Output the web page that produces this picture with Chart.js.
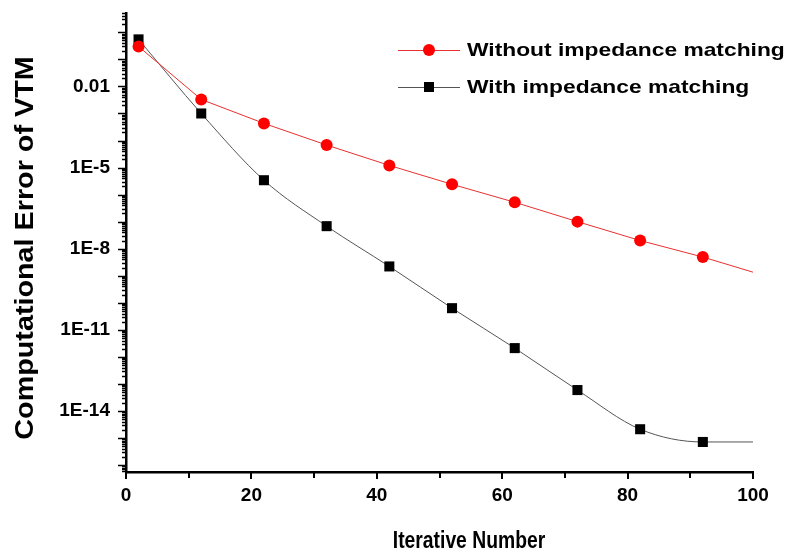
<!DOCTYPE html>
<html>
<head>
<meta charset="utf-8">
<script src="https://cdn.jsdelivr.net/npm/chart.js@4"></script>
<style>
  html, body { margin: 0; padding: 0; background: #fff; }
  #wrap { width: 788px; height: 554px; }
</style>
</head>
<body>
<div id="wrap"><canvas id="myChart" width="788" height="554"></canvas></div>
<script>
// values
const iterations = [2, 12, 22, 32, 42, 52, 62, 72, 82, 92]
const withoutMatching = [0.30, 3.3e-3, 4.3e-4, 6.8e-5, 1.2e-5, 2.4e-6, 5.2e-7, 1.0e-7, 2.0e-8, 4.9e-9]
const withMatching = [0.55, 1.0e-3, 3.4e-6, 6.8e-8, 2.2e-9, 6.3e-11, 2.1e-12, 5.9e-14, 2.1e-15, 7.1e-16]
// the curves run on to iteration 100 without a marker
const lastIteration = 100
const withoutEnd = 1.35e-9
const withEnd = 7.1e-16

const xTicks = [0, 20, 40, 60, 80, 100]
const yTickValues = [1e-2, 1e-5, 1e-8, 1e-11, 1e-14]
const yTickLabels = ['0.01', '1E-5', '1E-8', '1E-11', '1E-14']

const seriesNames = ['Without impedance matching', 'With impedance matching']
const xTitle = 'Iterative Number'
const yTitle = 'Computational Error of VTM'

const FONT = "'Liberation Sans', Arial, sans-serif"

function toPoints(xs, ys, xEnd, yEnd) {
    const pts = xs.map((x, i) => ({ x: x, y: ys[i] }))
    pts.push({ x: xEnd, y: yEnd })
    return pts
}

// text with a horizontal stretch (the original lettering is wider / narrower than Arial)
function stretchedText(ctx, text, x, y, size, sx, align, rotate) {
    ctx.save()
    ctx.translate(x, y)
    if (rotate) ctx.rotate(-Math.PI / 2)
    ctx.scale(sx, 1)
    ctx.font = 'bold ' + size + 'px ' + FONT
    ctx.fillStyle = '#000'
    ctx.textAlign = align
    ctx.textBaseline = 'alphabetic'
    ctx.fillText(text, 0, 0)
    ctx.restore()
}

// small ticks on both axes, origin style
const tickPlugin = {
    id: 'ticks',
    afterDraw(chart) {
        const { ctx, chartArea } = chart
        const x = chart.scales.x
        const y = chart.scales.y
        ctx.save()
        ctx.strokeStyle = '#000'
        ctx.lineWidth = 2
        for (let v = 0; v <= 100; v += 10) {
            const px = Math.round(x.getPixelForValue(v))
            ctx.beginPath()
            ctx.moveTo(px, chartArea.bottom)
            ctx.lineTo(px, chartArea.bottom + (v % 20 === 0 ? 7 : 6))
            ctx.stroke()
        }
        ctx.lineWidth = 1.5
        for (let e = -18; e <= 1; e++) {
            for (let m = 1; m <= 9; m++) {
                const val = m * Math.pow(10, e)
                if (val < y.min || val > y.max) continue
                const py = Math.round(y.getPixelForValue(val)) + 0.5
                const len = m === 1 ? 8 : 4
                ctx.beginPath()
                ctx.moveTo(chartArea.left - len, py)
                ctx.lineTo(chartArea.left, py)
                ctx.stroke()
            }
        }
        ctx.restore()
    }
}

// axis titles + legend with line and marker samples
const textPlugin = {
    id: 'texts',
    afterDraw(chart) {
        const ctx = chart.ctx
        stretchedText(ctx, xTitle, 469, 548, 23, 0.84, 'center', false)
        stretchedText(ctx, yTitle, 33, 248, 25, 1.15, 'center', true)

        const rows = [
            { y: 50, color: '#e83030', marker: 'circle' },
            { y: 87, color: '#555', marker: 'rect' }
        ]
        ctx.save()
        rows.forEach((row, i) => {
            ctx.strokeStyle = row.color
            ctx.lineWidth = 1
            ctx.beginPath()
            ctx.moveTo(398, row.y + 0.5)
            ctx.lineTo(460, row.y + 0.5)
            ctx.stroke()
            if (row.marker === 'circle') {
                ctx.fillStyle = '#ff0000'
                ctx.beginPath()
                ctx.arc(429, row.y, 6, 0, Math.PI * 2)
                ctx.fill()
            } else {
                ctx.fillStyle = '#000'
                ctx.fillRect(424, row.y - 5, 10, 10)
            }
        })
        ctx.restore()
        stretchedText(ctx, seriesNames[0], 467, 56, 19, 1.2, 'left', false)
        stretchedText(ctx, seriesNames[1], 467, 93, 19, 1.2, 'left', false)
    }
}

const data = {
    datasets: [{
        label: seriesNames[0],
        data: toPoints(iterations, withoutMatching, lastIteration, withoutEnd),
        borderColor: '#e83030',
        borderWidth: 1,
        backgroundColor: '#ff0000',
        pointStyle: 'circle',
        pointRadius: ctx => ctx.dataIndex < iterations.length ? 6 : 0,
        pointBorderWidth: 0,
        pointBackgroundColor: '#ff0000',
        tension: 0
    }, {
        label: seriesNames[1],
        data: toPoints(iterations, withMatching, lastIteration, withEnd),
        borderColor: '#555',
        borderWidth: 1,
        backgroundColor: '#000',
        pointStyle: 'rect',
        pointRadius: ctx => ctx.dataIndex < iterations.length ? 7.1 : 0,
        pointBorderWidth: 0,
        pointBackgroundColor: '#000',
        cubicInterpolationMode: 'monotone'
    }]
}

const config = {
    type: 'line',
    data: data,
    options: {
        responsive: false,
        animation: false,
        layout: { padding: { left: 0, right: 35, top: 13, bottom: 0 } },
        plugins: {
            legend: { display: false },
            tooltip: { enabled: false }
        },
        scales: {
            x: {
                type: 'linear',
                min: 0,
                max: 100,
                afterBuildTicks: scale => { scale.ticks = xTicks.map(v => ({ value: v })) },
                afterFit: scale => { scale.height = 82 },
                grid: { display: false, drawTicks: false },
                border: { display: true, color: '#000', width: 2.5 },
                ticks: {
                    color: '#000',
                    padding: 12,
                    maxRotation: 0,
                    font: { family: FONT, size: 19, weight: 'bold' }
                }
            },
            y: {
                type: 'logarithmic',
                min: 5.5e-17,
                max: 5.2,
                afterBuildTicks: scale => { scale.ticks = yTickValues.map(v => ({ value: v })) },
                afterFit: scale => {
                    scale.width = 126
                    scale.paddingTop = 0
                    scale.paddingBottom = 0
                },
                grid: { display: false, drawTicks: false },
                border: { display: true, color: '#000', width: 2.5 },
                ticks: {
                    color: '#000',
                    padding: 16,
                    autoSkip: false,
                    callback: (v) => {
                        const i = yTickValues.findIndex(t => Math.abs(Math.log10(t) - Math.log10(v)) < 1e-6)
                        return i >= 0 ? yTickLabels[i] : ''
                    },
                    font: { family: FONT, size: 19, weight: 'bold' }
                }
            }
        }
    },
    plugins: [tickPlugin, textPlugin]
}

function chart() {
    const myChart = new Chart(document.getElementById('myChart'), config)
}

chart()
</script>
</body>
</html>
